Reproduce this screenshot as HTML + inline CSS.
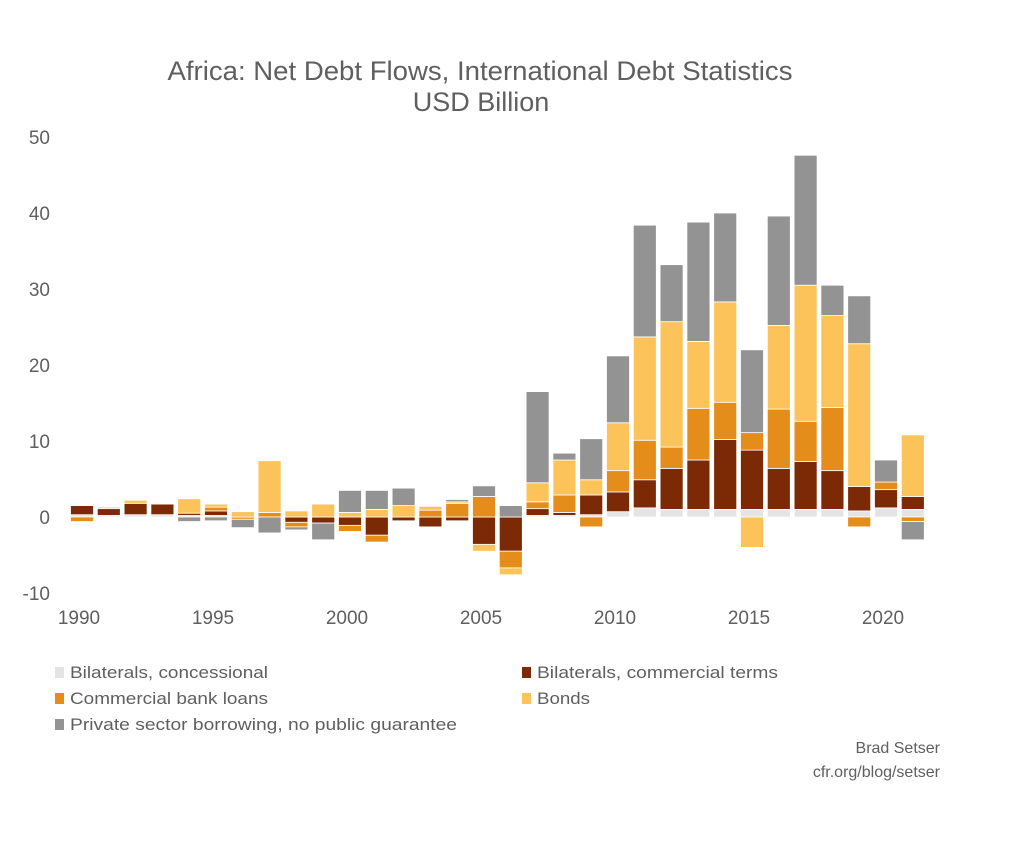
<!DOCTYPE html>
<html><head><meta charset="utf-8"><style>
body{margin:0;background:#fff;font-family:"Liberation Sans",sans-serif;}
svg{display:block}
text{fill:#5f5f5f;font-family:"Liberation Sans",sans-serif}
</style></head><body>
<svg id="chart" width="1026" height="848">
<text x="480" y="80" font-size="27" text-anchor="middle" textLength="625" lengthAdjust="spacingAndGlyphs">Africa: Net Debt Flows, International Debt Statistics</text>
<text x="481" y="111" font-size="27" text-anchor="middle">USD Billion</text>
<g id="yaxis"></g>
<g id="xaxis"></g>
<g id="bars"></g>
<g id="legend"></g>
<text x="940" y="753" font-size="16" text-anchor="end">Brad Setser</text>
<text x="940" y="777" font-size="16" text-anchor="end">cfr.org/blog/setser</text>
</svg>
<script>
const years = [1990,1991,1992,1993,1994,1995,1996,1997,1998,1999,2000,2001,2002,2003,2004,2005,2006,2007,2008,2009,2010,2011,2012,2013,2014,2015,2016,2017,2018,2019,2020,2021];
const concessional = [0.3,0.2,0.3,0.3,0.2,0.2,0,0,0,0,0,0,0,0,0,0,0,0.2,0.2,0.3,0.7,1.2,1.0,1.0,1.0,1.0,1.0,1.0,1.0,0.8,1.2,1.0];
const bilateralCommercial = [1.2,0.9,1.5,1.4,0.3,0.6,0,0,-0.7,-0.8,-1.1,-2.4,-0.5,-1.3,-0.5,-3.6,-4.5,0.9,0.4,2.6,2.6,3.7,5.4,6.5,9.2,7.8,5.4,6.3,5.1,3.2,2.4,1.7];
const bankLoans = [-0.6,0,0,0,0,0.5,-0.3,0.6,-0.6,0,-0.8,-0.9,0,0.9,1.8,2.7,-2.2,0.9,2.3,-1.3,2.8,5.2,2.8,6.8,4.9,2.3,7.8,5.3,8.3,-1.3,1.0,-0.6];
const bonds = [0,0.2,0.4,0,1.9,0.4,0.7,6.8,0.8,1.7,0.6,1.0,1.5,0.5,0.2,-0.9,-0.9,2.5,4.6,2.0,6.3,13.6,16.5,8.8,13.2,-4.0,11.0,17.9,12.1,18.8,0,8.1];
const privateSector = [0,0,0,0,-0.6,-0.5,-1.1,-2.1,-0.4,-2.2,2.9,2.5,2.3,0,0.3,1.4,1.5,12.0,0.9,5.4,8.8,14.7,7.5,15.7,11.7,10.9,14.4,17.1,4.0,6.3,2.9,-2.4];
const yTicks = [-10,0,10,20,30,40,50];
const xTicks = [1990,1995,2000,2005,2010,2015,2020];
const seriesNames = ["Bilaterals, concessional","Bilaterals, commercial terms","Commercial bank loans","Bonds","Private sector borrowing, no public guarantee"];
const seriesColors = ["#e4e4e4","#7c2a05","#e58d1b","#fcc35a","#939393"];
const seriesData = [concessional,bilateralCommercial,bankLoans,bonds,privateSector];

const NS="http://www.w3.org/2000/svg";
const y0=517, pxPerUnit=7.6;
const yScale=v=>y0-v*pxPerUnit;
const x0=82, step=26.8, bw=23;
const xScale=yr=>x0+(yr-1990)*step;
function mk(tag,attrs,parent){const e=document.createElementNS(NS,tag);for(const k in attrs)e.setAttribute(k,attrs[k]);parent.appendChild(e);return e;}

const ya=document.getElementById('yaxis');
yTicks.forEach(t=>{
  const e=mk('text',{x:50,y:yScale(t)+7,'font-size':19,'text-anchor':'end'},ya);
  
  
  e.textContent=t;
});
const xa=document.getElementById('xaxis');
xTicks.forEach(t=>{
  const e=mk('text',{x:xScale(t)-3,y:624,'font-size':19,'text-anchor':'middle'},xa);
  
  
  e.textContent=t;
});
const bg=document.getElementById('bars');
years.forEach((yr,i)=>{
  let pos=0,neg=0;
  seriesData.forEach((arr,s)=>{
    const v=arr[i]; if(!v) return;
    let top,bot;
    if(v>0){bot=pos;pos+=v;top=pos;} else {top=neg;neg+=v;bot=neg;}
    const r=mk('rect',{x:xScale(yr)-bw/2,y:yScale(top),width:bw,height:Math.max(0,yScale(bot)-yScale(top)),fill:seriesColors[s],stroke:'#fff','stroke-width':0.8},bg);
    
    
  });
});
const lg=document.getElementById('legend');
const lpos=[[55,672],[522,672],[55,698],[522,698],[55,724]];
const lwidths=[198,241,198,53,387];
seriesNames.forEach((n,s)=>{
  const [lx,ly]=lpos[s];
  const r=mk('rect',{x:lx,y:ly-5,width:9,height:11,fill:seriesColors[s]},lg);
  
  
  const t=mk('text',{x:lx+15,y:ly+6,'font-size':17,'textLength':lwidths[s],'lengthAdjust':'spacingAndGlyphs'},lg);
  
  
  t.textContent=n;
});
</script>
</body></html>
